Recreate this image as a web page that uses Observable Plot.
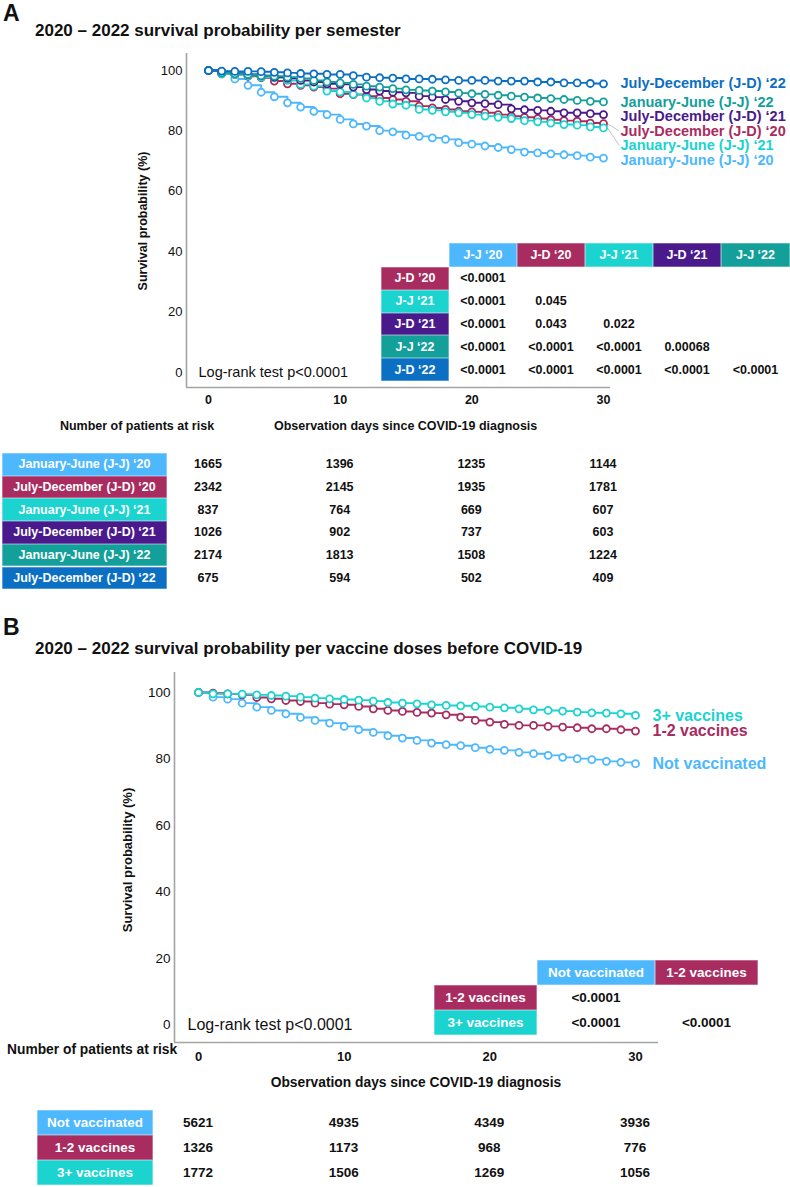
<!DOCTYPE html>
<html><head><meta charset="utf-8">
<script src="https://cdn.jsdelivr.net/npm/d3@7"></script>
<script src="https://cdn.jsdelivr.net/npm/@observablehq/plot@0.6"></script>
<style>
body{margin:0;background:#fff;font-family:"Liberation Sans",Arial,sans-serif;}
#root{position:relative;width:790px;height:1187px;overflow:hidden;background:#fff;}
.abs{position:absolute;white-space:nowrap;line-height:1;}
.cell{position:absolute;display:flex;align-items:center;justify-content:center;color:#fff;font-weight:bold;box-sizing:border-box;white-space:nowrap;box-shadow:inset 0 0 0 0.6px rgba(255,255,255,0.55);}
svg g[aria-label="x-axis tick label"] text{font-weight:bold;}
</style>
</head><body><div id="root"></div>
<script>
// ---------- DATA ----------
const days = [0,1,2,3,4,5,6,7,8,9,10,11,12,13,14,15,16,17,18,19,20,21,22,23,24,25,26,27,28,29,30];

// Panel A: semesters
const semesters = ["January-June (J-J) \u201820","July-December (J-D) \u201820","January-June (J-J) \u201821","July-December (J-D) \u201821","January-June (J-J) \u201822","July-December (J-D) \u201822"];
const semesterColors = ["#4db8fe","#a82c5f","#1bd3cf","#4a1a8c","#14a09a","#0b6fc4"];
const survJJ20 = [100,99.3,97.2,95.1,92.8,91.3,89.3,87.9,86.5,85.4,83.8,82.3,81.6,80.1,79.7,78.6,78.2,77.7,77.2,76.1,75.6,75.0,74.5,73.8,73.0,72.7,72.4,72.1,71.8,71.3,71.0];
const survJD20 = [100,98.9,98.7,98.1,97.6,96.5,95.6,95.1,94.5,94.0,92.3,92.0,91.5,90.9,90.4,89.8,88.2,87.6,87.1,86.5,86.3,86.0,85.4,84.9,84.5,84.1,83.7,83.4,83.2,82.6,82.4];
const survJJ21 = [100,98.9,98.7,98.3,97.8,97.6,96.7,95.4,94.8,93.2,92.9,92.1,90.9,89.8,88.9,88.5,87.1,86.8,86.3,86.0,85.4,84.9,84.5,84.1,83.4,83.0,82.6,82.1,81.9,81.3,81.0];
const survJD21 = [100,99.6,99.1,98.7,98.3,97.8,97.4,96.7,96.2,95.6,95.4,94.5,93.7,93.2,92.8,92.6,91.5,91.2,90.4,89.8,89.3,89.0,88.7,87.3,87.0,86.8,86.5,86.0,86.0,85.7,85.4];
const survJJ22 = [100,99.2,98.9,98.7,98.3,98.1,97.8,97.4,96.7,96.2,95.9,95.4,94.8,94.5,94.0,93.6,93.4,93.2,92.9,92.5,92.3,92.1,91.8,91.5,91.2,90.9,90.7,90.4,90.1,89.8,89.6];
const survJD22 = [100,99.8,99.7,99.7,99.6,99.4,99.2,99.0,98.9,98.7,98.7,98.3,97.8,97.6,97.5,97.2,97.2,97.1,96.9,96.7,96.7,96.7,96.5,96.5,96.5,96.2,96.2,95.9,95.9,95.7,95.6];
const riskDays = [0,10,20,30];
const riskA = [[1665,1396,1235,1144],[2342,2145,1935,1781],[837,764,669,607],[1026,902,737,603],[2174,1813,1508,1224],[675,594,502,409]];
const pColsA = ["J-J \u201820","J-D \u201820","J-J \u201821","J-D \u201821","J-J \u201822"];
const pRowsA = ["J-D \u201920","J-J \u201821","J-D \u201821","J-J \u201822","J-D \u201822"];
const pColIdxA = [0,1,2,3,4];   // colour index of header cells
const pRowIdxA = [1,2,3,4,5];   // colour index of row cells
const pValsA = [["<0.0001","","","",""],["<0.0001","0.045","","",""],["<0.0001","0.043","0.022","",""],["<0.0001","<0.0001","<0.0001","0.00068",""],["<0.0001","<0.0001","<0.0001","<0.0001","<0.0001"]];

// Panel B: vaccine doses
const doses = ["Not vaccinated","1-2 vaccines","3+ vaccines"];
const doseColors = ["#4db8fe","#a82c5f","#1bd3cf"];
const survNone = [100,98.6,98.0,96.8,95.6,94.6,93.6,92.5,91.6,90.8,89.8,88.8,88.0,87.0,86.3,85.6,84.8,84.3,84.0,83.4,82.9,82.6,82.0,81.6,81.1,80.5,80.1,79.8,79.3,79.0,78.6];
const surv12 = [100,99.8,99.6,99.3,98.5,98.1,97.6,97.3,96.8,96.5,96.3,95.8,95.1,94.6,94.3,94.0,93.8,93.3,92.6,91.6,91.1,90.4,90.1,90.1,89.8,89.6,89.4,89.1,89.1,88.8,88.4];
const surv3 = [100,99.6,99.6,99.5,99.3,99.1,98.9,98.6,98.3,98.1,97.9,97.7,97.4,97.0,96.8,96.6,96.3,96.1,96.0,95.8,95.6,95.4,95.1,94.8,94.6,94.4,94.1,93.9,93.8,93.6,93.1];
const riskB = [[5621,4935,4349,3936],[1326,1173,968,776],[1772,1506,1269,1056]];
const pColsB = ["Not vaccinated","1-2 vaccines"];
const pRowsB = ["1-2 vaccines","3+ vaccines"];
const pColIdxB = [0,1];
const pRowIdxB = [1,2];
const pValsB = [["<0.0001",""],["<0.0001","<0.0001"]];

const yTicks = [0,20,40,60,80,100];
const xTicks = [0,10,20,30];
const logrankText = "Log-rank test p<0.0001";

// ---------- HELPERS ----------
const FONT = "'Liberation Sans', Arial, sans-serif";
const root = document.getElementById("root");
function txt(s, x, y, o = {}) {
  const d = document.createElement("div");
  d.className = "abs"; d.textContent = s;
  d.style.left = x + "px"; d.style.top = y + "px";
  d.style.fontSize = (o.size || 13) + "px";
  d.style.fontWeight = o.weight || "normal";
  d.style.color = o.color || "#111";
  const tx = o.anchor === "start" ? "0" : o.anchor === "end" ? "-100%" : "-50%";
  d.style.transform = `translate(${tx},-50%)` + (o.rotate ? ` rotate(${o.rotate}deg)` : "");
  root.appendChild(d); return d;
}
function cell(s, x, y, w, h, bg, size) {
  const d = document.createElement("div");
  d.className = "cell"; d.textContent = s;
  Object.assign(d.style, {left: x + "px", top: y + "px", width: w + "px", height: h + "px", background: bg, fontSize: size + "px"});
  root.appendChild(d); return d;
}

function kmPanel(cfg) {
  const {names, colors, series} = cfg;
  const kx = (cfg.day30px - cfg.day0px) / 30, ky = (cfg.v0px - cfg.v100px) / 100;
  const xDomain = [(cfg.axisLeft - cfg.day0px) / kx, (cfg.axisRight - cfg.day0px) / kx];
  const yDomain = [(cfg.v0px - cfg.axisBottom) / ky, (cfg.v0px - cfg.axisTop) / ky];
  const rows = names.flatMap((n, i) => days.map((d, j) => ({group: n, day: d, v: series[i][j]})));
  const ends = names.map((n, i) => ({group: n, end: series[i][series[i].length - 1]}));
  const sorted = [...ends].sort((a, b) => b.end - a.end);
  const gap = cfg.labelGapPx / ky;
  let prev = Infinity;
  for (const e of sorted) { e.lab = Math.min(e.end, prev - gap); prev = e.lab; }
  const leaders = ends.filter(e => e.end - e.lab > 1.5);
  const gray = "#a3a3a3";
  const plot = Plot.plot({
    width: 790, height: cfg.height,
    marginLeft: cfg.axisLeft, marginRight: 790 - cfg.axisRight,
    marginTop: cfg.axisTop - cfg.top, marginBottom: cfg.top + cfg.height - cfg.axisBottom,
    x: {domain: xDomain}, y: {domain: yDomain},
    color: {domain: names, range: colors},
    style: {fontFamily: FONT, fontSize: "13px", color: "#111", background: "transparent", overflow: "visible"},
    marks: [
      Plot.ruleX([xDomain[0]], {stroke: gray, strokeWidth: 1.6}),
      Plot.ruleY([yDomain[0]], {stroke: gray, strokeWidth: 1.6}),
      Plot.axisY({ticks: yTicks, tickSize: 0, tickPadding: 4, fontSize: cfg.yTickSize, label: null}),
      Plot.axisX({ticks: xTicks, tickSize: 0, tickPadding: cfg.xTickPad, fontSize: cfg.xTickSize, fontWeight: "bold", label: null}),
      Plot.link(leaders, {x1: 30.3, x2: 31.2, y1: "end", y2: "lab", stroke: "#b5b5b5", strokeWidth: 0.8}),
      Plot.line(rows, {x: "day", y: "v", z: "group", stroke: "group", curve: "step-after", strokeWidth: 1.9}),
      Plot.dot(rows, {x: "day", y: "v", stroke: "group", fill: "white", r: 3.5, strokeWidth: 1.8}),
      Plot.text(ends, {x: 30, y: "lab", text: "group", fill: "group", dx: cfg.labelDx, textAnchor: "start", fontWeight: "bold", fontSize: cfg.labelSize}),
      Plot.text([logrankText], {x: xDomain[0], y: 0, dx: cfg.logrankDx, textAnchor: "start", fontSize: cfg.logrankSize, fill: "#111"})
    ]
  });
  plot.style.position = "absolute";
  plot.style.left = "0px";
  plot.style.top = cfg.top + "px";
  root.appendChild(plot);
  return plot;
}

function pTable(cfg, cols, rows, colIdx, rowIdx, vals, palette) {
  let x = cfg.left + cfg.rowW;
  const centers = [];
  cols.forEach((c, j) => {
    cell(c, x, cfg.top, cfg.colW[j], cfg.headH, palette[colIdx[j]], cfg.size);
    centers.push(x + cfg.colW[j] / 2);
    x += cfg.colW[j];
  });
  rows.forEach((r, i) => {
    const y = cfg.top + cfg.headH + i * cfg.rowH;
    cell(r, cfg.left, y, cfg.rowW, cfg.rowH, palette[rowIdx[i]], cfg.size);
    vals[i].forEach((v, j) => { if (v) txt(v, centers[j], y + cfg.rowH / 2, {size: cfg.size, weight: "bold"}); });
  });
}

function riskTable(plot, cfg, names, palette, risk) {
  const xs = plot.scale("x");
  names.forEach((n, i) => {
    const y = cfg.top + i * cfg.rowH;
    cell(n, cfg.left, y, cfg.width, cfg.rowH, palette[i], cfg.size);
    riskDays.forEach((d, j) => txt(String(risk[i][j]), xs.apply(d), y + cfg.rowH / 2, {size: cfg.numSize, weight: "bold"}));
  });
}

// ---------- PANEL A ----------
txt("A", 3, 13, {size: 23, weight: "bold", anchor: "start"});
txt("2020 \u2013 2022 survival probability per semester", 35, 30, {size: 17, weight: "bold", anchor: "start"});
const plotA = kmPanel({
  names: semesters, colors: semesterColors,
  series: [survJJ20, survJD20, survJJ21, survJD21, survJJ22, survJD22],
  top: 0, height: 415, axisLeft: 186, axisRight: 610, axisTop: 53, axisBottom: 387,
  day0px: 208, day30px: 603, v0px: 372, v100px: 70,
  yTickSize: 13, xTickSize: 12.5, xTickPad: 8,
  labelGapPx: 14.5, labelDx: 17, labelSize: 14.5, logrankDx: 12, logrankSize: 14.5
});
txt("Survival probability (%)", 143, 221, {size: 12.5, weight: "bold", rotate: -90});
txt("Number of patients at risk", 137, 426, {size: 12.5, weight: "bold"});
txt("Observation days since COVID-19 diagnosis", 274, 426, {size: 12.5, weight: "bold", anchor: "start"});
pTable({left: 381, rowW: 68, colW: [68, 68, 68, 68, 69], top: 243, headH: 24, rowH: 22.8, size: 12.5},
  pColsA, pRowsA, pColIdxA, pRowIdxA, pValsA, semesterColors);
riskTable(plotA, {left: 2, width: 165, top: 453, rowH: 22.7, size: 12.5, numSize: 12.5}, semesters, semesterColors, riskA);

// ---------- PANEL B ----------
txt("B", 3, 627, {size: 23, weight: "bold", anchor: "start"});
txt("2020 \u2013 2022 survival probability per vaccine doses before COVID-19", 35, 648, {size: 17, weight: "bold", anchor: "start"});
const plotB = kmPanel({
  names: doses, colors: doseColors,
  series: [survNone, surv12, surv3],
  top: 600, height: 472, axisLeft: 174, axisRight: 658, axisTop: 672, axisBottom: 1042,
  day0px: 198, day30px: 635, v0px: 1024.5, v100px: 692,
  yTickSize: 13.5, xTickSize: 13, xTickPad: 9,
  labelGapPx: 15, labelDx: 17, labelSize: 16, logrankDx: 13, logrankSize: 16
});
txt("Survival probability (%)", 127, 860, {size: 13, weight: "bold", rotate: -90});
txt("Number of patients at risk", 7, 1050, {size: 13.8, weight: "bold", anchor: "start"});
txt("Observation days since COVID-19 diagnosis", 416, 1083, {size: 13.8, weight: "bold"});
pTable({left: 434, rowW: 103, colW: [118, 103], top: 960, headH: 25, rowH: 25, size: 13.5},
  pColsB, pRowsB, pColIdxB, pRowIdxB, pValsB, doseColors);
riskTable(plotB, {left: 37, width: 116, top: 1110, rowH: 25, size: 13.5, numSize: 13.5}, doses, doseColors, riskB);
</script>
</body></html>
